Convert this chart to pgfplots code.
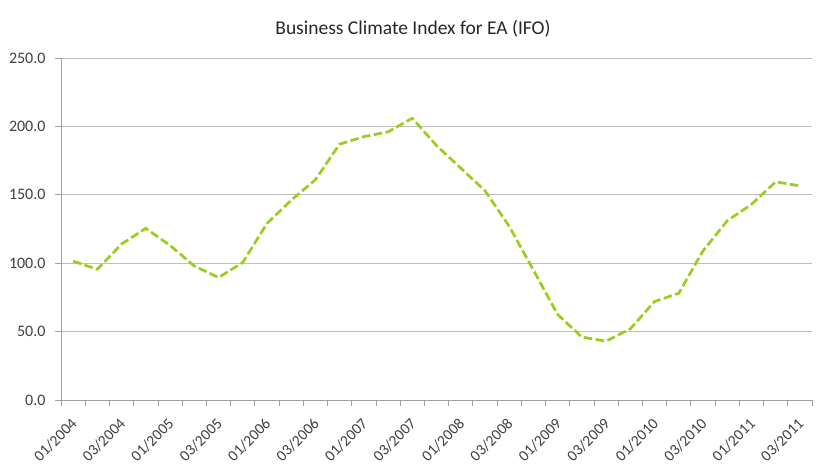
\documentclass[border=0pt]{standalone}
\usepackage{fontspec}
\setmainfont{Carlito}
\usepackage{pgfplots}
\pgfplotsset{compat=1.18}

\definecolor{ifogreen}{RGB}{154,205,30}
\definecolor{gridgray}{RGB}{190,190,190}
\definecolor{axisgray}{RGB}{160,160,160}
\definecolor{labelgray}{RGB}{64,64,64}

% Quarterly IFO business climate index for the euro area, 2004Q1--2011Q3
\begin{document}
\begin{tikzpicture}[x=1bp,y=1bp]
\useasboundingbox (0,0) rectangle (826,470);
\node[font=\fontsize{19.5bp}{22bp}\selectfont, text=black!85] at (413,441)
  {Business Climate Index for EA (IFO)};
\begin{axis}[
  at={(61bp,70bp)}, anchor=south west,
  scale only axis,
  width=751bp, height=342bp,
  xmin=-0.5, xmax=30.5,
  ymin=0, ymax=250,
  axis lines*=left,
  axis line style={axisgray, line width=0.8bp},
  xtick={0,2,...,30},
  xticklabels={01/2004,03/2004,01/2005,03/2005,01/2006,03/2006,01/2007,03/2007,
               01/2008,03/2008,01/2009,03/2009,01/2010,03/2010,01/2011,03/2011},
  major x tick style={draw=none},
  minor xtick={-0.5,0.5,...,30.5},
  minor tick length=6bp,
  minor x tick style={axisgray, line width=0.8bp},
  ytick={0,50,...,250},
  major tick length=6bp,
  tick align=outside,
  major y tick style={axisgray, line width=0.8bp},
  ymajorgrids,
  major grid style={gridgray, line width=0.9bp},
  yticklabel style={/pgf/number format/fixed, /pgf/number format/fixed zerofill,
    /pgf/number format/precision=1, /pgf/number format/assume math mode=true,
    text=labelgray, font=\fontsize{16bp}{18bp}\selectfont, xshift=-6bp},
  xticklabel style={text=labelgray, font=\fontsize{15.5bp}{17bp}\selectfont,
    xshift=-3bp, yshift=-11bp, rotate=45, anchor=north east, inner sep=0bp},
  clip=false,
]
\addplot[ifogreen, line width=2.7bp, dash pattern=on 8.5bp off 3.5bp, line join=round]
  coordinates {
  (0,101.5) (1,95.5) (2,114) (3,125.5) (4,113) (5,98) (6,89.5) (7,100.5)
  (8,129) (9,146) (10,161) (11,187) (12,192.5) (13,196) (14,206) (15,186)
  (16,169.5) (17,153) (18,127) (19,95) (20,62.5) (21,46) (22,43) (23,52)
  (24,72) (25,78) (26,109) (27,131) (28,143) (29,159.5) (30,156.5)
  };
\end{axis}
\end{tikzpicture}
\end{document}
